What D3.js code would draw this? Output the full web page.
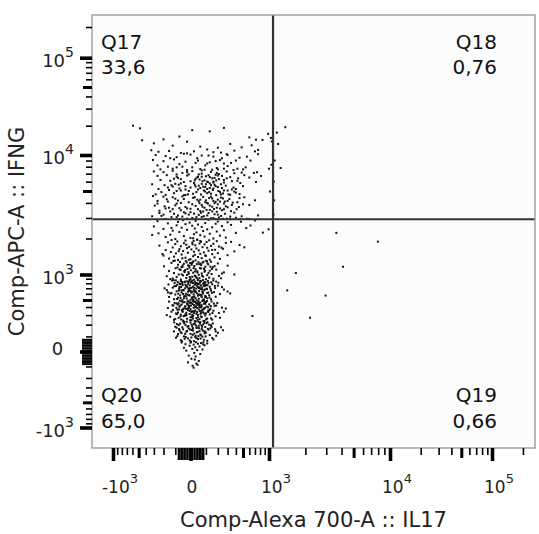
<!DOCTYPE html>
<html><head><meta charset="utf-8">
<script src="https://cdn.jsdelivr.net/npm/d3@7"></script>
<style>body{margin:0;background:#fff}svg{display:block}</style>
</head><body><svg id="chart" width="539" height="534"></svg>
<script>
// ---- data (event values, compensated fluorescence) ----
const q17Events = [
[-590,20000],[-480,18800],[-450,14200],[-200,14500],[-70,15500],[10,18000],[130,17500],[260,19000],[600,15200],[720,14400],
[850,14300],[980,16500],[1040,15000],[1060,13800],[330,13000],[-120,12500],[60,12200],[480,12000],[-300,13200],[200,11900],[640,12600],[-20,13700],
[-330,11200],[-250,10800],[-150,11000],[-60,10500],[20,10900],[110,11400],[230,10600],[380,11100],[160,10700],[760,11300],
[-20,10400],[700,10900],[-280,10000],[-180,9800],[-90,9600],[0,10100],[70,9900],[160,9700],[290,10200],[450,9500],
[120,9900],[40,9400],[560,9700],[-310,9100],[-200,8900],[-110,9200],[-30,8800],[45,9000],[130,8700],[220,9100],
[340,8600],[180,8900],[260,8500],[620,9000],[1050,8300],[-260,8200],[-160,8000],[-70,8400],[10,7900],[95,8200],
[190,7800],[300,8100],[420,7700],[-50,8000],[200,7600],[540,7900],[-230,7600],[-120,7700],[-20,7500],[60,7650],
[150,7550],[260,7700],[370,7500],[500,7600],[90,7550],[-40,10300],[240,9400],[110,8500],[-140,9400],[300,10000],
[30,8600],[400,9000],[-90,7900],[760,10200],[1000,7700],
[-300,7300],[-200,7200],[-120,7400],[-50,7100],[10,7350],[70,7000],[140,7250],[210,6950],[290,7300],[380,7050],
[480,7150],[-10,6900],[740,7200],[180,6850],[680,7100],[-260,6700],[-170,6800],[-90,6600],[-20,6750],[40,6500],
[100,6650],[170,6450],[240,6700],[330,6550],[430,6400],[70,6600],[-110,6350],[600,6500],[-230,6200],[-140,6100],
[-60,6300],[0,6050],[55,6250],[115,5950],[185,6150],[260,5900],[350,6050],[460,5850],[160,6000],[-60,5800],
[720,5950],[-320,5700],[-190,5600],[-100,5750],[-30,5500],[25,5650],[80,5450],[140,5600],[200,5400],[280,5550],
[370,5350],[500,5500],[130,5300],[30,5450],[-250,5200],[-150,5100],[-70,5250],[-10,5000],[45,5150],[95,4950],
[155,5100],[220,4900],[300,5050],[400,4850],[-90,5000],[110,4800],[1020,4950],[-280,4700],[-180,4650],[-110,4800],
[-40,4620],[15,4750],[65,4680],[125,4900],[185,4630],[250,4780],[330,4660],[450,4720],[-30,4640],[230,4700],
[-20,7200],[50,6900],[120,6800],[190,7100],[-80,6450],[30,6350],[90,6150],[150,6400],[210,6300],[-40,5950],
[20,5850],[75,6050],[130,5800],[260,6200],[-120,5450],[0,5350],[60,5300],[110,5200],[170,5650],[240,5300],
[-60,5050],[35,4900],[85,5050],[140,4750],[205,5000],[310,4700],[400,5200],[-15,4700],[50,5550],[100,5700],
[160,5900],[230,5700],[290,6400],[350,5150],[420,6100],[520,6800],[-160,5350],[-90,6900],[70,7450],[180,5500],
[110,6000],[45,6600],[-30,5150],[260,5050],[160,5250],[-130,5600],[820,6700],[-220,4900],[380,4950],[130,6550],
[70,5750],[25,6150],[200,6750],[95,5400],[-75,5650],
[-310,4550],[-200,4500],[-120,4450],[-50,4520],[15,4400],[80,4480],[150,4350],[230,4420],[320,4300],[450,4380],
[60,4250],[-100,4330],[700,4200],[-260,4150],[-160,4100],[-80,4180],[-10,4050],[50,4120],[110,4000],[180,4080],
[260,3950],[360,4020],[500,3900],[170,3980],[600,3850],[-290,3800],[-190,3750],[-100,3820],[-30,3700],[30,3780],
[90,3650],[150,3720],[220,3600],[300,3680],[410,3550],[-70,3620],[130,3500],[-240,3450],[-140,3400],[-60,3480],
[0,3350],[60,3420],[120,3300],[190,3380],[270,3250],[380,3320],[200,3200],[-30,3280],[760,3150],[-320,3100],
[-220,3120],[-130,3050],[-50,3080],[10,3000],[70,3060],[140,2980],[210,3030],[290,2960],[400,3010],[560,2950],
[-70,2935],[30,2940],[100,2945],[180,2938],[250,2950],[330,2932],[460,2942],[-180,2945],[-20,2960],[600,2940],
[-40,4300],[40,4250],[100,4200],[160,4150],[220,4100],[-90,3950],[10,3900],[70,3850],[130,3800],[200,3900],
[280,3750],[-150,3650],[-20,3600],[45,3550],[105,3500],[165,3560],[240,3480],[340,3420],[-110,3250],[-10,3200],
[50,3180],[110,3150],[170,3220],[230,3120],[330,3080],[-240,3300],[-80,3150],[20,3260],[85,3100],[150,3400],
[260,3550],[440,3700],[80,3400],[-180,3600],[-170,4280],[-60,4000],[25,4450],[125,4380],[200,4250],[300,4150],
[420,4050],[520,4450],[-260,3950],[-40,3350],[65,3320],[95,4050],[140,4500],[350,3850],[480,3100],[270,4100],
[160,3000],[0,3580],[75,3720],[115,3950],[-120,3550],[35,3050],[250,4350],[-200,3200],[190,3650],[-90,3050],[55,3980]
];
const q18Events = [[1170,17000],[1380,19300],[1120,9000],[1100,6000],[1200,13000],[1110,4200],[1260,7800],[1095,3200]];
const q19Events = [[3630,2240],[7960,1890],[4110,1170],[1680,1030],[1430,660],[2960,570],[2190,270]];
const q20Events = [
[40,1960],[-100,1980],[160,2000],[0,2020],[280,2040],[-180,2060],[90,2080],[-40,2100],[220,2120],[60,2140],
[-140,2160],[20,2180],[130,2200],[-250,2220],[400,2240],[35,2260],[-70,2280],[190,2300],[80,2320],[-120,2340],
[260,2360],[-20,2380],[110,2400],[-200,2420],[25,2440],[550,2460],[-55,2480],[150,2500],[70,2520],[-300,2540],
[240,2560],[10,2580],[-90,2600],[340,2620],[45,2640],[-30,2660],[180,2680],[-160,2700],[95,2720],[-5,2740],
[300,2760],[-80,2780],[200,2800],[-260,2820],[30,2840],[700,2860],[-45,2880],[120,2895],[990,2400],[860,2250],
[-320,2150],[470,2790],[15,2010],[620,2590],[-130,2470],
[30,1325],[-80,1335],[130,1345],[0,1355],[220,1365],[-150,1375],[70,1385],[-30,1395],[170,1405],[45,1415],
[-110,1425],[15,1435],[100,1445],[-200,1455],[300,1465],[25,1475],[-55,1485],[150,1495],[60,1505],[-95,1515],
[200,1525],[-15,1535],[85,1545],[-135,1555],[20,1565],[380,1575],[-45,1585],[120,1595],[50,1605],[-180,1615],
[175,1625],[5,1635],[-70,1645],[250,1655],[35,1665],[-20,1675],[110,1685],[-120,1695],[75,1705],[-8,1715],
[210,1725],[-60,1735],[140,1745],[-240,1755],[28,1765],[450,1775],[-25,1785],[90,1795],[-100,1805],[160,1815],
[55,1825],[-40,1835],[280,1845],[10,1855],[-160,1865],[105,1875],[65,1885],[-85,1895],[190,1905],[18,1915],
[-30,1925],[125,1935],[-130,1945],[40,1950],[520,1700],[-10,1340],[95,1460],[-75,1580],[235,1690],[12,1800],
[60,1910],[-50,1380],[150,1620],[-210,1500],[340,1880],
[20,875],[-60,882],[100,888],[0,895],[160,900],[-120,905],[55,912],[-25,918],[125,925],[35,930],
[-90,938],[10,945],[80,950],[-170,958],[210,965],[25,972],[-45,978],[110,985],[50,992],[-75,1000],
[145,1008],[-10,1015],[70,1022],[-110,1030],[15,1038],[260,1045],[-35,1052],[90,1060],[40,1068],
[-150,1075],[130,1082],[2,1090],[-62,1098],[185,1105],[30,1112],[-18,1120],[85,1128],[-98,1135],
[58,1142],[-6,1150],[155,1158],[-50,1165],[96,1172],[-195,1180],[22,1188],[300,1195],[-14,1202],
[66,1210],[-80,1218],[118,1225],[38,1232],[-40,1240],[200,1248],[8,1255],[-130,1262],[76,1270],
[48,1278],[-66,1285],[140,1292],[16,1300],[-28,1308],[102,1315],[-104,1320],[44,880],[230,910],
[-4,940],[72,970],[-54,1002],[120,1034],[26,1064],[-32,1094],[88,1124],[-84,1154],[170,1184],
[6,1214],[62,1244],[-22,1274],[108,1304],[-140,890],[36,920],[380,1000],[-12,1050],[94,1080],
[-70,1110],[18,1140],[135,1170],[-48,1200],[54,1230],[-2,1260],[82,1290],[-115,1310],[28,960],
[240,1020],[-38,1070],[64,1130],[-8,1190],[112,1250],[-56,1160],[42,1040],[-20,990],[148,1120],[12,1280],
[15,492],[-50,498],[85,500],[0,505],[140,510],[-110,512],[50,518],[-22,522],[110,526],[30,530],
[-80,535],[8,540],[70,545],[-150,548],[180,552],[22,556],[-38,560],[95,565],[45,568],[-65,572],
[125,576],[-8,580],[60,585],[-100,588],[18,592],[220,596],[-28,600],[80,604],[38,608],[-130,612],
[110,616],[4,620],[-55,624],[165,628],[28,632],[-15,636],[75,640],[-90,644],[52,648],[-2,652],
[140,656],[-42,660],[88,664],[-170,668],[20,672],[260,676],[-10,680],[62,684],[-72,688],[105,692],
[34,696],[-32,700],[175,704],[6,708],[-120,712],[70,716],[46,720],[-58,724],[130,728],[14,732],
[-22,736],[90,740],[-95,744],[40,748],[200,752],[-4,756],[64,760],[-48,764],[102,768],[24,772],
[-155,776],[150,780],[50,784],[-14,788],[80,792],[-70,796],[32,800],[-105,804],[120,808],[2,812],
[58,816],[-36,820],[96,824],[-82,828],[26,832],[185,836],[-18,840],[66,844],[-60,848],[115,852],
[10,856],[-125,860],[44,864],[-6,868],[78,870],[300,640],[-190,700],[36,494],[-88,516],[128,538],
[-26,558],[68,578],[-46,598],[148,618],[12,638],[-74,658],[92,678],[-12,698],[56,718],[-108,738],
[112,758],[28,778],[-52,798],[86,818],[-30,838],[160,858],[18,504],[-62,530],[100,550],[-6,570],
[48,590],[-140,610],[76,630],[0,650],[-44,670],[136,690],[22,710],[-20,730],[84,750],[-86,770],
[42,790],[205,810],[-10,830],[60,850],[-112,866],[10,520],[94,542],[-34,562],[54,582],[-78,602],
[118,622],[30,642],[-56,662],[72,682],[-2,702],[240,722],[-24,742],[100,762],[-66,782],[38,802],
[142,822],[4,842],[-96,862],[82,508],[-40,528],[16,548],[66,566],[-16,586],[330,606],[-160,626],
[26,646],[-8,666],[108,686],[52,706],[-70,726],[172,746],[-30,766],[90,786],[14,806],[-50,826],
[25,235],[-45,240],[90,238],[5,245],[150,250],[-110,248],[55,255],[-20,260],[110,262],[35,268],
[-75,270],[0,275],[70,278],[-140,282],[180,285],[15,290],[-35,292],[95,296],[45,300],[-60,305],
[130,308],[-5,312],[62,315],[-95,318],[20,322],[210,325],[-25,328],[80,332],[40,336],[-130,340],
[115,342],[8,346],[-50,350],[160,352],[28,356],[-15,360],[75,364],[-85,366],[50,370],[0,374],
[135,378],[-40,380],[88,384],[-160,386],[18,390],[240,392],[-8,396],[58,400],[-70,402],[105,406],
[32,410],[-30,412],[170,416],[2,420],[-115,422],[68,426],[44,430],[-55,434],[125,436],[12,440],
[-20,444],[85,446],[-90,450],[38,452],[195,456],[-2,460],[60,462],[-45,466],[100,470],[22,472],
[-150,476],[145,478],[48,482],[-12,485],[78,488],[-68,490],[30,232],[-100,258],[66,284],[-28,310],
[118,338],[-52,362],[92,388],[-8,414],[52,442],[-36,468],[140,264],[10,302],[-80,330],[72,354],
[26,398],[-122,424],[164,448],[-18,474],[42,246],[-62,286],[100,320],[-4,348],[84,372],[-33,404],
[56,428],[-105,454],[12,480],[220,270],[36,314],[-48,338],[128,360],[-14,382],[70,408],[-82,432],
[4,458],[108,484],[-58,252],[46,276],[-24,298],[152,324],[16,344],[-72,368],[64,394],[-10,418],
[96,444],[28,470],[-170,300],[260,340],[-38,228],[82,236],[-88,312],[6,334],[120,356],[-26,376],
[54,402],[-64,420],[34,446],[-6,464],[74,490],[-118,362],[185,420],[14,262],[-42,288],[88,318],
[24,342],[-92,390],[138,412],[-16,436],[46,460],[-56,480],[102,254],[8,280],[-30,306],[66,330],
[40,388],[-2,244],[58,348],[-46,370],[116,396],[20,426],[-76,452],[90,474],[-22,230],[280,380],[655,290],
[20,65],[-60,72],[110,68],[45,80],[-15,85],[160,77],[5,92],[75,98],[-95,90],[30,104],
[130,110],[-40,100],[60,115],[0,120],[90,125],[-80,118],[38,132],[200,128],[-25,138],[55,142],
[15,148],[-70,150],[120,155],[70,160],[-10,165],[175,158],[35,170],[-50,175],[95,178],[10,184],
[-100,180],[50,190],[140,195],[-30,198],[80,202],[25,208],[-65,210],[105,214],[0,220],[60,225],
[-5,70],[85,75],[-35,82],[150,88],[28,95],[-85,102],[66,108],[12,112],[-55,126],[100,130],
[42,136],[-20,144],[180,140],[8,152],[-45,158],[115,162],[52,168],[-90,172],[72,180],[-12,186],
[230,176],[32,192],[-75,196],[125,200],[18,205],[-38,215],[88,218],[48,228],[-108,222],[155,212],
[3,62],[62,84],[-28,96],[98,100],[22,122],[-62,134],[78,146],[-2,156],[135,166],[40,174],
[-18,182],[68,194],[-88,206],[112,224],[26,230],[-52,64],[185,105],[14,168],[58,212],[-32,120],
[92,140],[36,86],[-72,160],[145,180],[6,200],[-42,226],[82,58],[250,150],[-110,140],[48,102],
[12,-95],[35,-78],[50,-60],[5,-45],[-10,-25],[30,-30],[22,-8],[60,-15],[-25,5],[40,8],
[10,15],[75,12],[-40,22],[28,25],[55,30],[-5,35],[90,38],[18,42],[-30,45],[45,48],
[65,52],[0,55],[110,50],[32,58],[-55,56],[80,44],[25,-50],[-15,-70],[42,-88],[18,-110]
];
const gateX = [1085];
const gateY = [2925];
const quadrantNames = ["Q17", "Q18", "Q19", "Q20"];
const quadrantPercents = ["33,6", "0,76", "0,66", "65,0"];
const majorTicks = [-1000, 0, 1000, 10000, 100000];
const majorBases = ["-10", "0", "10", "10", "10"];
const majorExps = ["3", "", "3", "4", "5"];
const midTicks = [-500, 500, 5000, 50000];
const minorTicks = [-900,-800,-700,-600,-400,-300,-200,-100,100,200,300,400,600,700,800,900,
  2000,3000,4000,6000,7000,8000,9000,20000,30000,40000,60000,70000,80000,90000,200000];
const zeroTicks = [-80,-70,-60,-50,-40,-30,-20,-10,0,10,20,30,40,50,60,70,80];
const xTitle = "Comp-Alexa 700-A :: IL17";
const yTitle = "Comp-APC-A :: IFNG";

// ---- layout (biexponential display: symlog pieces, log-like above 10^3) ----
const L = 92, R = 535, T = 15, B = 448;
const breaks = [-1630, -1000, 0, 1000, 2000, 5000, 1e4, 2e4, 5e4, 1e5, 262144];
const x = d3.scaleSymlog().constant(300).domain(breaks)
  .range([L, 113, 190.5, 269, 305.4, 353.6, 390, 420.7, 461.3, 492, R]);
const y = d3.scaleSymlog().constant(300).domain(breaks)
  .range([B, 427.5, 351.5, 274.5, 238.5, 191, 155, 125.7, 87, 57.7, T]);

const svg = d3.select("#chart");
const font = "'DejaVu Sans', Verdana, sans-serif";

svg.append("rect").attr("x", L).attr("y", T).attr("width", R - L).attr("height", B - T)
  .attr("fill", "#fcfcfc");

const plot = svg.append("g");
plot.append("clipPath").attr("id", "clip").append("rect")
  .attr("x", L).attr("y", T).attr("width", R - L).attr("height", B - T);

const allEvents = [].concat(q17Events, q18Events, q19Events, q20Events);
plot.append("g").attr("clip-path", "url(#clip)")
  .selectAll("rect").data(allEvents).join("rect")
  .attr("x", d => x(d[0]) - 1).attr("y", d => y(d[1]) - 1)
  .attr("width", 2).attr("height", 2).attr("fill", "#111");

// gates
plot.append("line").attr("x1", x(gateX[0])).attr("x2", x(gateX[0])).attr("y1", T).attr("y2", B)
  .attr("stroke", "#333").attr("stroke-width", 2.2);
plot.append("line").attr("x1", L).attr("x2", R).attr("y1", y(gateY[0])).attr("y2", y(gateY[0]))
  .attr("stroke", "#333").attr("stroke-width", 2.2);

// frame
svg.append("rect").attr("x", L).attr("y", T).attr("width", R - L).attr("height", B - T)
  .attr("fill", "none").attr("stroke", "#a3a3a3").attr("stroke-width", 1.5);

// quadrant labels
const qPos = [
  {x: 101, y1: 48.5, y2: 74, anchor: "start"},
  {x: 497, y1: 48.5, y2: 74, anchor: "end"},
  {x: 497, y1: 401.5, y2: 428, anchor: "end"},
  {x: 101, y1: 401.5, y2: 428, anchor: "start"}
];
quadrantNames.forEach((n, i) => {
  const p = qPos[i];
  const g = svg.append("g").attr("font-family", font).attr("font-size", 20).attr("fill", "#111")
    .attr("text-anchor", p.anchor);
  g.append("text").attr("x", p.x).attr("y", p.y1).text(n);
  g.append("text").attr("x", p.x).attr("y", p.y2).text(quadrantPercents[i]);
});

// axes (ticks)
function tickLayer(axisFn, vals, size, width, transform) {
  const g = svg.append("g").attr("transform", transform)
    .call(axisFn.tickValues(vals).tickSize(size).tickFormat(""));
  g.select(".domain").remove();
  g.selectAll(".tick line").attr("stroke", "#000").attr("stroke-width", width);
  return g;
}
tickLayer(d3.axisBottom(x), minorTicks, 7, 1.6, `translate(0,${B})`);
tickLayer(d3.axisBottom(x), zeroTicks, 12, 1.6, `translate(0,${B})`);
tickLayer(d3.axisBottom(x), midTicks, 10, 3, `translate(0,${B})`);
tickLayer(d3.axisBottom(x), majorTicks, 13, 3.6, `translate(0,${B})`);
tickLayer(d3.axisLeft(y), minorTicks, 6, 1.6, `translate(${L},0)`);
tickLayer(d3.axisLeft(y), zeroTicks, 10, 1.6, `translate(${L},0)`);
tickLayer(d3.axisLeft(y), midTicks, 9, 3, `translate(${L},0)`);
tickLayer(d3.axisLeft(y), majorTicks, 12, 3.6, `translate(${L},0)`);

// tick labels
majorTicks.forEach((v, i) => {
  const hasExp = majorExps[i] !== "";
  const tx = svg.append("text").attr("font-family", font).attr("font-size", 17).attr("fill", "#222")
    .attr("text-anchor", "middle").attr("x", x(v) + (hasExp ? 7 : 1.5)).attr("y", 493);
  tx.append("tspan").text(majorBases[i]);
  if (hasExp) tx.append("tspan").attr("dy", -10).attr("font-size", 13).text(majorExps[i]);

  const ty = svg.append("text").attr("font-family", font).attr("font-size", 18).attr("fill", "#222")
    .attr("text-anchor", hasExp ? "end" : "middle")
    .attr("x", hasExp ? 74 : 57.5).attr("y", y(v) + (hasExp ? 9 : 3.5));
  ty.append("tspan").text(majorBases[i]);
  if (hasExp) ty.append("tspan").attr("dy", -10).attr("font-size", 14).text(majorExps[i]);
});

// titles
svg.append("text").attr("font-family", font).attr("font-size", 21).attr("fill", "#222")
  .attr("text-anchor", "middle").attr("x", (L + R) / 2).attr("y", 527).text(xTitle);
svg.append("text").attr("font-family", font).attr("font-size", 21).attr("fill", "#222")
  .attr("text-anchor", "middle").attr("transform", `translate(24,${(T + B) / 2}) rotate(-90)`).text(yTitle);
</script></body></html>
